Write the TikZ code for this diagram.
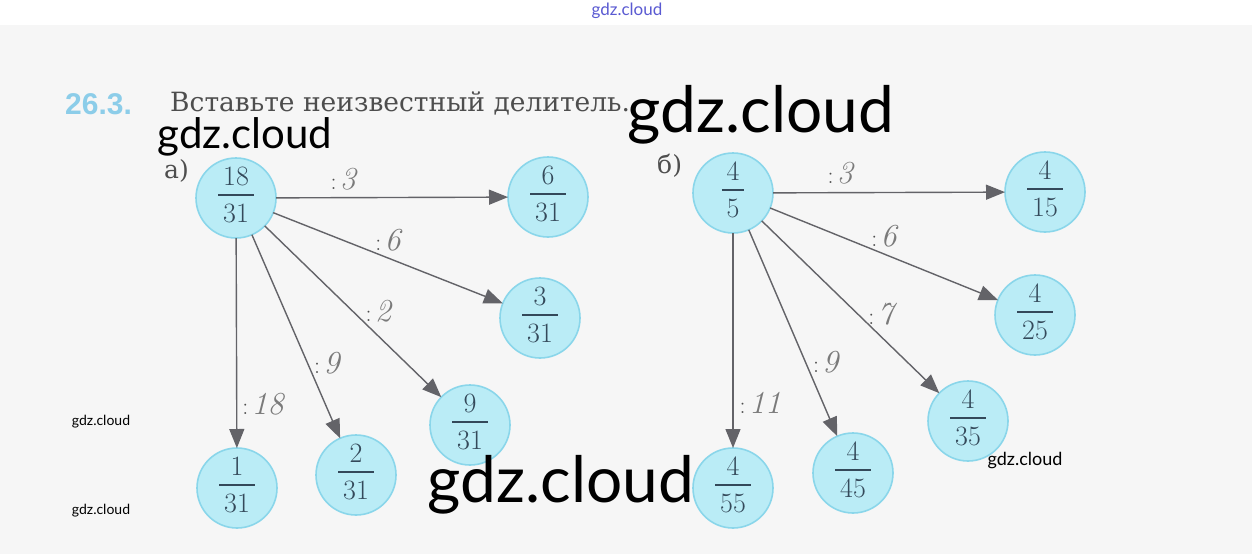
\documentclass[tikz,border=0pt]{standalone}
\usepackage{fontspec}
\usepackage{tikz}
\usetikzlibrary{arrows.meta,positioning}
\newfontfamily\wmfont{Lato}
\newfontfamily\titlefont{DejaVu Serif}
\newfontfamily\numfont{Liberation Sans}
\definecolor{bggray}{HTML}{F6F6F6}
\definecolor{circfill}{HTML}{BAECF6}
\definecolor{circline}{HTML}{8AD6EA}
\definecolor{fractext}{HTML}{34495A}
\definecolor{arrgray}{HTML}{636368}
\definecolor{handgray}{HTML}{7A7A7A}
\definecolor{titlegray}{HTML}{4E4E4E}
\definecolor{numblue}{HTML}{8CCDE9}
\definecolor{wmblue}{HTML}{5A5AD2}
\newcommand{\fr}[2]{{\setlength{\arrayrulewidth}{1.2pt}%
  \begin{tabular}{@{\,}c@{\,}}#1\\\hline\rule{0pt}{27pt}#2\end{tabular}}}
\newcommand{\divby}[1]{{\fontsize{24}{24}\selectfont\color{titlegray}:}\,\,{\itshape\fontsize{32}{32}\selectfont #1}}
\tikzset{
  fracnode/.style={circle,minimum size=80pt,inner sep=0pt,outer sep=0pt,
    fill=circfill,draw=circline,line width=1.6pt,text=fractext,
    font=\fontsize{28}{30}\selectfont},
  arr/.style={-{Triangle[length=19pt,width=15pt]},draw=arrgray,line width=1.4pt},
  lbl/.style={text=handgray,inner sep=0pt},
  wm/.style={inner sep=0pt,font=\wmfont}
}

\begin{document}
\begin{tikzpicture}[x=1pt,y=-1pt]
\useasboundingbox (0,0) rectangle (1252,554);
\fill[white] (0,0) rectangle (1252,25);
\fill[bggray] (0,25) rectangle (1252,554);
\node[wm,text=wmblue,font=\wmfont\fontsize{17}{17}\selectfont] (wmtop) at (627,11) {gdz.cloud};

% heading
\node[anchor=base west,inner sep=0pt,text=numblue,font=\numfont\bfseries\fontsize{30}{30}\selectfont] (num) at (65,114) {26.3.};
\node[anchor=base west,inner sep=0pt,text=titlegray,font=\titlefont\fontsize{26.5}{30}\selectfont] (title) at (170,111) {Вставьте неизвестный делитель.};
\node[anchor=base west,inner sep=0pt,text=titlegray,font=\titlefont\fontsize{25}{30}\selectfont] (parta) at (164,178) {а)};
\node[anchor=base west,inner sep=0pt,text=titlegray,font=\titlefont\fontsize{25}{30}\selectfont] (partb) at (657,173) {б)};

% a)
\node[fracnode] (la) at (236,198) {\fr{18}{31}};
\node[fracnode] (lb) at (548,197) {\fr{6}{31}};
\node[fracnode] (lc) at (540,318) {\fr{3}{31}};
\node[fracnode] (ld) at (470,425) {\fr{9}{31}};
\node[fracnode] (le) at (356,475) {\fr{2}{31}};
\node[fracnode] (lf) at (237,488) {\fr{1}{31}};
\draw[arr] (la) -- node[lbl,pos=0.29,above=7pt] {\divby{3}} (lb);
\draw[arr] (la) -- node[lbl,pos=0.5,above=6pt] {\divby{6}} (lc);
\draw[arr] (la) -- node[lbl,pos=0.5,right=12pt] {\divby{2}} (ld);
\draw[arr] (la) -- node[lbl,pos=0.63,right=6pt] {\divby{9}} (le);
\draw[arr] (la) -- node[lbl,pos=0.79,right=5pt] {\divby{18}} (lf);

% b)
\node[fracnode] (ra) at (733,193) {\fr{4}{5}};
\node[fracnode] (rb) at (1045,192) {\fr{4}{15}};
\node[fracnode] (rc) at (1035,315) {\fr{4}{25}};
\node[fracnode] (rd) at (968,421) {\fr{4}{35}};
\node[fracnode] (re) at (853,473) {\fr{4}{45}};
\node[fracnode] (rf) at (733,488) {\fr{4}{55}};
\draw[arr] (ra) -- node[lbl,pos=0.29,above=8pt] {\divby{3}} (rb);
\draw[arr] (ra) -- node[lbl,pos=0.5,above=6pt] {\divby{6}} (rc);
\draw[arr] (ra) -- node[lbl,pos=0.54,right=10pt] {\divby{7}} (rd);
\draw[arr] (ra) -- node[lbl,pos=0.64,right=7pt] {\divby{9}} (re);
\draw[arr] (ra) -- node[lbl,pos=0.79,right=6pt] {\divby{11}} (rf);

% watermarks
\node[wm,font=\wmfont\fontsize{64}{64}\selectfont] (wm1) at (761,115) {gdz.cloud};
\node[wm,font=\wmfont\fontsize{42}{42}\selectfont] (wm2) at (245,137) {gdz.cloud};
\node[wm,font=\wmfont\fontsize{64}{64}\selectfont] (wm3) at (561,485) {gdz.cloud};
\node[wm,font=\wmfont\fontsize{14}{14}\selectfont] (wm4) at (101,422) {gdz.cloud};
\node[wm,font=\wmfont\fontsize{14}{14}\selectfont] (wm5) at (101,511) {gdz.cloud};
\node[wm,font=\wmfont\fontsize{18}{18}\selectfont] (wm6) at (1025,461) {gdz.cloud};
\end{tikzpicture}
\end{document}
